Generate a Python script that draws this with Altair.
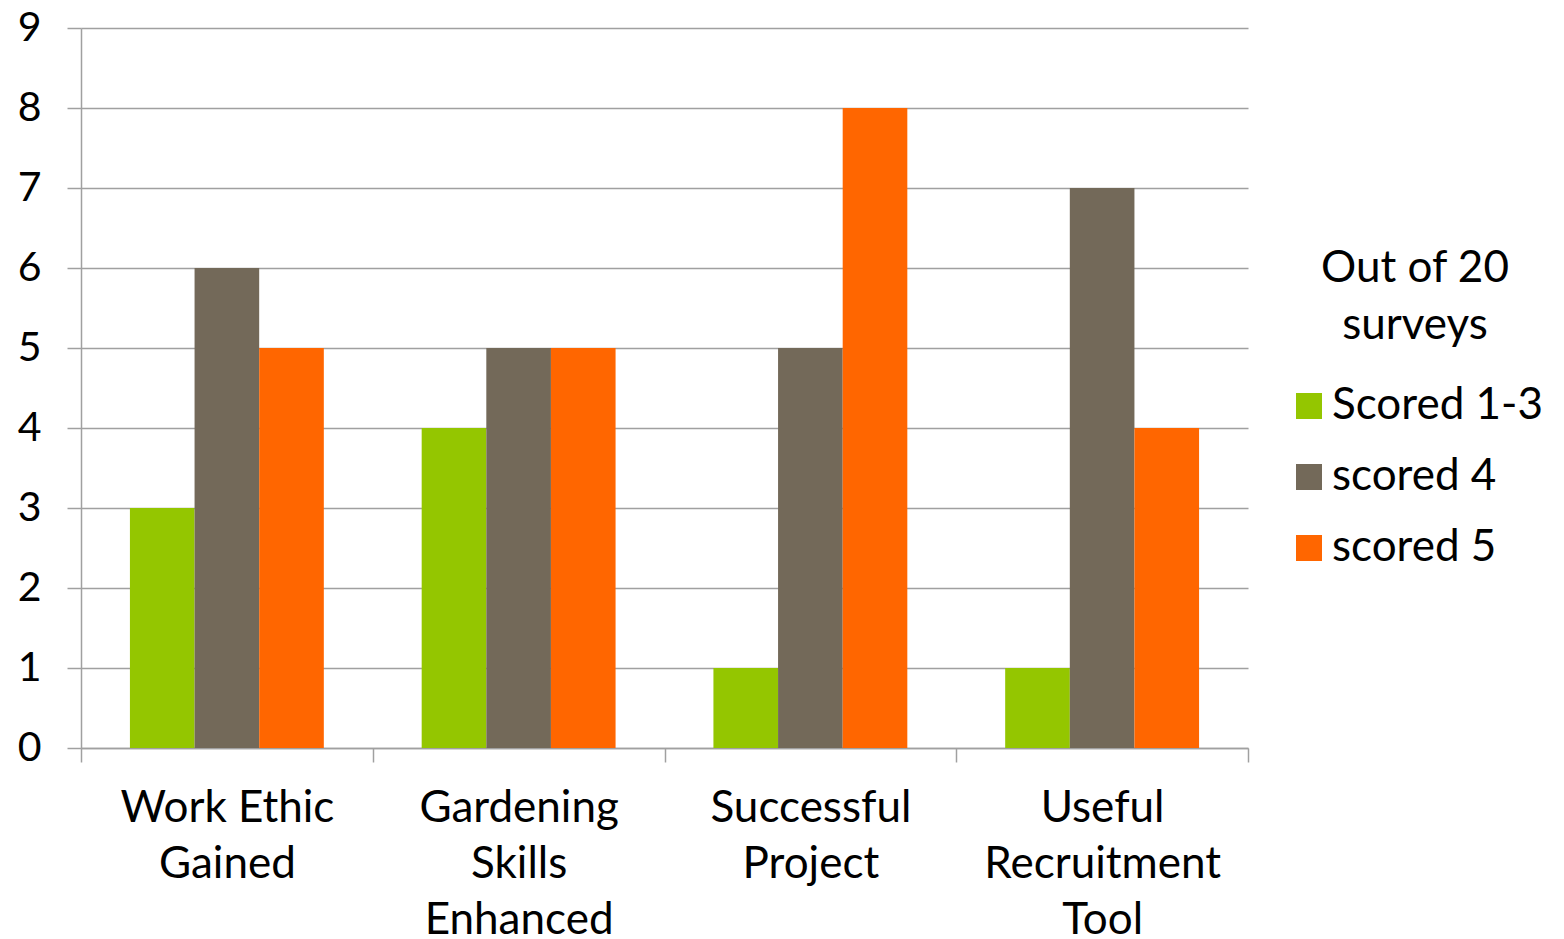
import altair as alt
import pandas as pd

categories = ["Work Ethic\nGained", "Gardening\nSkills\nEnhanced", "Successful\nProject", "Useful\nRecruitment\nTool"]
series = ["Scored 1-3", "scored 4", "scored 5"]
scored_1_3 = [3, 4, 1, 1]
scored_4 = [6, 5, 5, 7]
scored_5 = [5, 5, 8, 4]
colors = ["#94C600", "#736959", "#FF6600"]

rows = []
for i, c in enumerate(categories):
    for s, vals in zip(series, [scored_1_3, scored_4, scored_5]):
        rows.append({"category": c, "series": s, "value": vals[i]})
df = pd.DataFrame(rows)

FONT = "Lato"
GRID = "#A0A0A0"

chart = alt.Chart(df).mark_bar().encode(
    x=alt.X("category:N", sort=categories, title=None,
            scale=alt.Scale(paddingInner=0, paddingOuter=0),
            axis=alt.Axis(labelAngle=0, labelFontSize=44, labelFont=FONT, labelColor="black",
                          labelLineHeight=56, labelPadding=24, labelExpr="split(datum.label, '\\n')",
                          labelLimit=0,
                          tickBand="extent", tickSize=14, tickColor=GRID, tickWidth=1.5,
                          domainColor=GRID, domainWidth=1.5, grid=False, labelBaseline="top")),
    xOffset=alt.XOffset("series:N", sort=series, scale=alt.Scale(paddingInner=0, paddingOuter=0.757)),
    y=alt.Y("value:Q", title=None,
            scale=alt.Scale(domain=[0, 9], nice=False),
            axis=alt.Axis(values=list(range(10)), labelFontSize=41, labelFont=FONT, labelColor="black",
                          labelPadding=26, tickSize=14, tickColor=GRID, tickWidth=1.5,
                          domainColor=GRID, domainWidth=1.5, gridColor=GRID, gridWidth=1.5)),
    color=alt.Color("series:N", sort=series,
                    scale=alt.Scale(domain=series, range=colors),
                    legend=alt.Legend(title=["Out of 20", "surveys"], orient="none",
                                      legendX=1206, legendY=219,
                                      titleFontSize=44, titleFont=FONT, titleFontWeight="normal",
                                      titleLineHeight=57, titleAnchor="middle", titleAlign="center",
                                      titleColor="black", titlePadding=36, titleLimit=0,
                                      labelFontSize=44, labelFont=FONT, labelColor="black",
                                      labelLimit=0,
                                      symbolType="square", symbolSize=676, symbolStrokeWidth=0,
                                      rowPadding=27, labelOffset=1)),
).properties(
    width=1167, height=720,
    padding={"left": 73, "top": 20, "right": 308, "bottom": 190},
    autosize=alt.AutoSizeParams(type="none"),
).configure_view(stroke=None)

chart.save("out.html", embed_options={"renderer": "svg", "actions": False})
